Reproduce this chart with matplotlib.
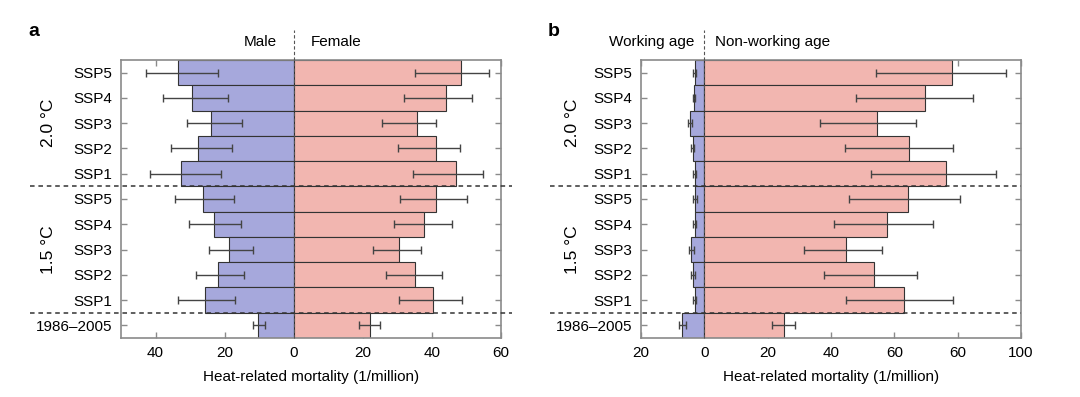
import matplotlib.pyplot as plt
import numpy as np

plt.rcParams['font.family'] = ['Liberation Sans', 'DejaVu Sans']

# rows from top to bottom
rows = ["SSP5", "SSP4", "SSP3", "SSP2", "SSP1",
        "SSP5", "SSP4", "SSP3", "SSP2", "SSP1", "1986\u20132005"]

# panel a: male / female
male = [33.5, 29.5, 23.9, 27.8, 32.5, 26.4, 23.2, 18.6, 21.8, 25.7, 10.2]
male_lo = [21.8, 18.9, 15.0, 17.8, 21.1, 17.4, 15.4, 11.9, 14.5, 17.0, 8.4]
male_hi = [42.9, 37.8, 30.8, 35.5, 41.7, 34.5, 30.3, 24.5, 28.3, 33.4, 11.7]
female = [48.3, 44.2, 35.6, 41.2, 47.1, 41.1, 37.7, 30.4, 35.2, 40.3, 22.1]
female_lo = [35.2, 32.0, 25.6, 30.2, 34.6, 30.7, 28.9, 22.9, 26.7, 30.4, 18.9]
female_hi = [56.6, 51.6, 41.3, 48.1, 54.9, 50.3, 45.9, 36.9, 42.8, 48.8, 25.0]

# panel b: working age / non-working age
working = [3.05, 3.3, 4.6, 3.7, 3.0, 2.8, 3.0, 4.1, 3.6, 2.8, 6.9]
working_lo = [2.5, 2.8, 3.9, 3.2, 2.7, 2.2, 2.6, 3.4, 3.1, 2.5, 5.8]
working_hi = [3.6, 3.6, 5.2, 4.2, 3.5, 3.5, 3.7, 4.8, 4.1, 3.5, 8.0]
nonworking = [78.3, 69.8, 54.6, 64.7, 76.2, 64.4, 57.7, 44.6, 53.5, 62.9, 25.1]
nonworking_lo = [54.1, 48.0, 36.6, 44.5, 52.7, 45.7, 41.1, 31.6, 37.9, 44.8, 21.5]
nonworking_hi = [95.4, 84.8, 66.7, 78.6, 92.2, 80.8, 72.2, 56.2, 67.2, 78.5, 28.7]

BLUE = "#a6a8dc"
PINK = "#f2b6b0"
GRAY = "#8a8a8a"

fig = plt.figure(figsize=(10.8, 3.97), dpi=100)
ax_a = fig.add_axes([121 / 1080, 59 / 397, 380 / 1080, 278 / 397])
ax_b = fig.add_axes([641 / 1080, 59 / 397, 380 / 1080, 278 / 397])

y = np.arange(len(rows))[::-1]


def draw(ax, left, left_lo, left_hi, right, right_lo, right_hi,
         xlim, ticks, ticklabels, hline_x0, hline_x1, lab_left, lab_right,
         gap, group_x, letter):
    left = np.array(left)
    right = np.array(right)
    ax.barh(y, -left, height=1, color=BLUE, edgecolor="#333333", linewidth=0.8, zorder=2)
    ax.barh(y, right, height=1, color=PINK, edgecolor="#333333", linewidth=0.8, zorder=2)

    lc = -(np.array(left_lo) + np.array(left_hi)) / 2
    lh = (np.array(left_hi) - np.array(left_lo)) / 2
    ax.errorbar(lc, y, xerr=lh, fmt="none", ecolor="#444444", elinewidth=1,
                capsize=3, capthick=1, zorder=3)
    rc = (np.array(right_lo) + np.array(right_hi)) / 2
    rh = (np.array(right_hi) - np.array(right_lo)) / 2
    ax.errorbar(rc, y, xerr=rh, fmt="none", ecolor="#444444", elinewidth=1,
                capsize=3, capthick=1, zorder=3)

    ax.set_xlim(*xlim)
    ax.set_ylim(-0.5, len(rows) - 0.5)
    ax.set_yticks(y)
    ax.set_yticklabels(rows, fontsize=11)
    ax.set_xticks(ticks)
    ax.set_xticklabels(ticklabels, fontsize=11)
    ax.tick_params(direction="in", top=True, right=True, length=4, color=GRAY,
                   width=1, pad=6)
    for s in ax.spines.values():
        s.set_color(GRAY)
        s.set_linewidth(1.2)
    ax.set_xlabel("Heat-related mortality (1/million)", fontsize=11, labelpad=7)

    # zero line, dashed, going above the axes
    ax.plot([0, 0], [-0.5, len(rows) - 0.5 + 1.2], transform=ax.transData,
            color="#555555", linestyle=(0, (3, 2)), linewidth=0.8,
            clip_on=False, zorder=4)

    # group separators
    trans = ax.get_yaxis_transform()
    for yy in (5.5, 0.5):
        ax.plot([hline_x0, hline_x1], [yy, yy], transform=trans, color="#333333",
                linestyle=(0, (3, 2.5)), linewidth=1.1, clip_on=False, zorder=4)

    ax.annotate(lab_left, (0, 11.2), xytext=(-gap, 0), textcoords="offset points",
                ha="right", va="center", fontsize=11, annotation_clip=False)
    ax.annotate(lab_right, (0, 11.2), xytext=(gap, 0), textcoords="offset points",
                ha="left", va="center", fontsize=11, annotation_clip=False)

    ax.text(group_x, 8, "2.0 \u00b0C", transform=trans, rotation=90,
            ha="center", va="center", fontsize=12.5)
    ax.text(group_x, 3, "1.5 \u00b0C", transform=trans, rotation=90,
            ha="center", va="center", fontsize=12.5)
    ax.text(letter[1], letter[2], letter[0], transform=fig.transFigure,
            fontsize=14, fontweight="bold", ha="left", va="center")


draw(ax_a, male, male_lo, male_hi, female, female_lo, female_hi,
     (-50, 60), [-40, -20, 0, 20, 40, 60], ["40", "20", "0", "20", "40", "60"],
     -0.24, 1.03, "Male", "Female", 12, -0.19, ("a", 28 / 1080, 1 - 32 / 397))

draw(ax_b, working, working_lo, working_hi, nonworking, nonworking_lo, nonworking_hi,
     (-20, 100), [-20, 0, 20, 40, 60, 80, 100],
     ["20", "0", "20", "40", "60", "60", "100"],
     -0.24, 1.0, "Working age", "Non-working age", 7.5, -0.18,
     ("b", 548 / 1080, 1 - 32 / 397))

fig.savefig("out.png", dpi=100)
